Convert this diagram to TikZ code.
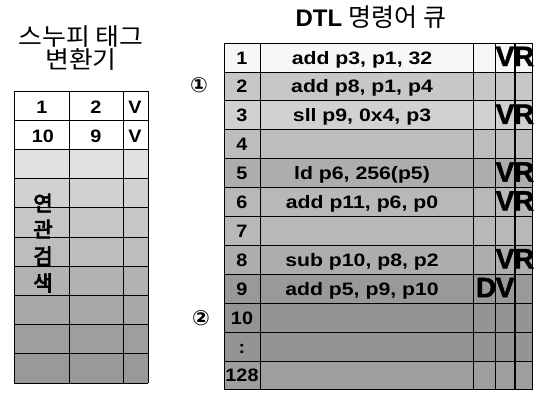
\documentclass[tikz,border=0pt]{standalone}
\usepackage{graphicx}
\usepackage{fontspec}
\setmainfont{Liberation Sans}
\newfontfamily\kr{Noto Sans CJK KR}
\newfontfamily\krb{Noto Sans CJK KR}[FakeBold=4]
\newfontfamily\hv{Liberation Sans}[BoldFeatures={FakeBold=1.5}]
\newfontfamily\djv{DejaVu Sans}
\newcommand{\wide}[2]{\scalebox{#1}[1]{#2}}
\begin{document}
\begin{tikzpicture}[x=1pt,y=-1pt,
  cell/.style={font=\bfseries\fontsize{18}{18}\selectfont, inner sep=0pt, anchor=base},
  big/.style={font=\hv\bfseries\fontsize{28}{28}\selectfont, inner sep=0pt, anchor=base},
  grid/.style={draw=black, line width=0.7pt},
  circ/.style={font=\djv\bfseries\fontsize{21}{21}\selectfont, inner sep=0pt}]
\useasboundingbox (0,0) rectangle (537,392);
\fill[white] (0,0) rectangle (537,392);
% ---------- left table ----------
\foreach \i/\g in {0/0,1/0,2/12,3/18,4/22,5/26,6/30,7/34,8/38,9/40}{
  \fill[black!\g] (14,{91+29.2*\i}) rectangle (148,{91+29.2*(\i+1)});
}
\foreach \i in {0,...,10}{ \draw[grid] (14,{91+29.2*\i}) -- (148,{91+29.2*\i}); }
\draw[grid] (14,91) -- (14,383);
\draw[grid] (69,91) -- (69,383);
\draw[grid] (123,91) -- (123,383);
\draw[grid] (148,91) -- (148,383);
\node[font=\kr\fontsize{24}{24}\selectfont, inner sep=0pt] (lt1) at (81,37) {\wide{1.08}{스누피 태그}};
\node[font=\kr\fontsize{24}{24}\selectfont, inner sep=0pt] (lt2) at (81,59) {\wide{1.08}{변환기}};
\node[cell] (l11) at (42,113.5) {\wide{1.1}{1}};
\node[cell] (l12) at (96,113.5) {\wide{1.1}{2}};
\node[cell] (l13) at (135,113.5) {\wide{1.1}{V}};
\node[cell] (l21) at (43,142.5) {\wide{1.1}{10}};
\node[cell] (l22) at (96,142.5) {\wide{1.1}{9}};
\node[cell] (l23) at (135,142.5) {\wide{1.1}{V}};
\foreach \c/\yy [count=\k] in {연/203,관/229,검/256,색/283}{
  \node[font=\krb\fontsize{21}{21}\selectfont, inner sep=0pt] (s\k) at (43,\yy) {\c};
}
% ---------- right table ----------
\node[inner sep=0pt, anchor=base] (rtitle) at (371,26) {\bfseries\fontsize{24}{24}\selectfont DTL\ \normalfont\kr\fontsize{25}{25}\selectfont 명령어 큐};
\foreach \i/\g in {0/3,1/22,2/18,3/26,4/32,5/28,6/28,7/32,8/40,9/42,10/42,11/38}{
  \fill[black!\g] (224,{43+28.9*\i}) rectangle (532,{43+28.9*(\i+1)});
}
\foreach \i in {0,...,12}{ \draw[grid] (224,{43+28.9*\i}) -- (532,{43+28.9*\i}); }
\foreach \xx in {224,260,473,495,532}{ \draw[grid] (\xx,43) -- (\xx,390); }
\draw[black, line width=1.4pt] (515,43) -- (515,390);
\foreach \n/\t [count=\k from 0] in {1/{add p3, p1, 32}, 2/{add p8, p1, p4}, 3/{sll p9, 0x4, p3}, 4/{}, 5/{ld p6, 256(p5)}, 6/{add p11, p6, p0}, 7/{}, 8/{sub p10, p8, p2}, 9/{add p5, p9, p10}, 10/{}, :/{}, 128/{}}{
  \node[cell] (n\k) at (242,{64+28.9*\k}) {\wide{1.1}{\n}};
  \node[cell] (i\k) at (362,{64+28.9*\k}) {\wide{1.18}{\t}};
}
\foreach \k in {0,2,4,5,7}{
  \node[big] (v\k) at (505,{66+28.9*\k}) {V};
  \node[big] (r\k) at (524,{66+28.9*\k}) {R};
}
\node[big] (d8) at (486,{66+28.9*8}) {D};
\node[big] (v8) at (505,{66+28.9*8}) {V};
\node[circ] (c1) at (199,85) {①};
\node[circ] (c2) at (201,318) {②};
\end{tikzpicture}
\end{document}
